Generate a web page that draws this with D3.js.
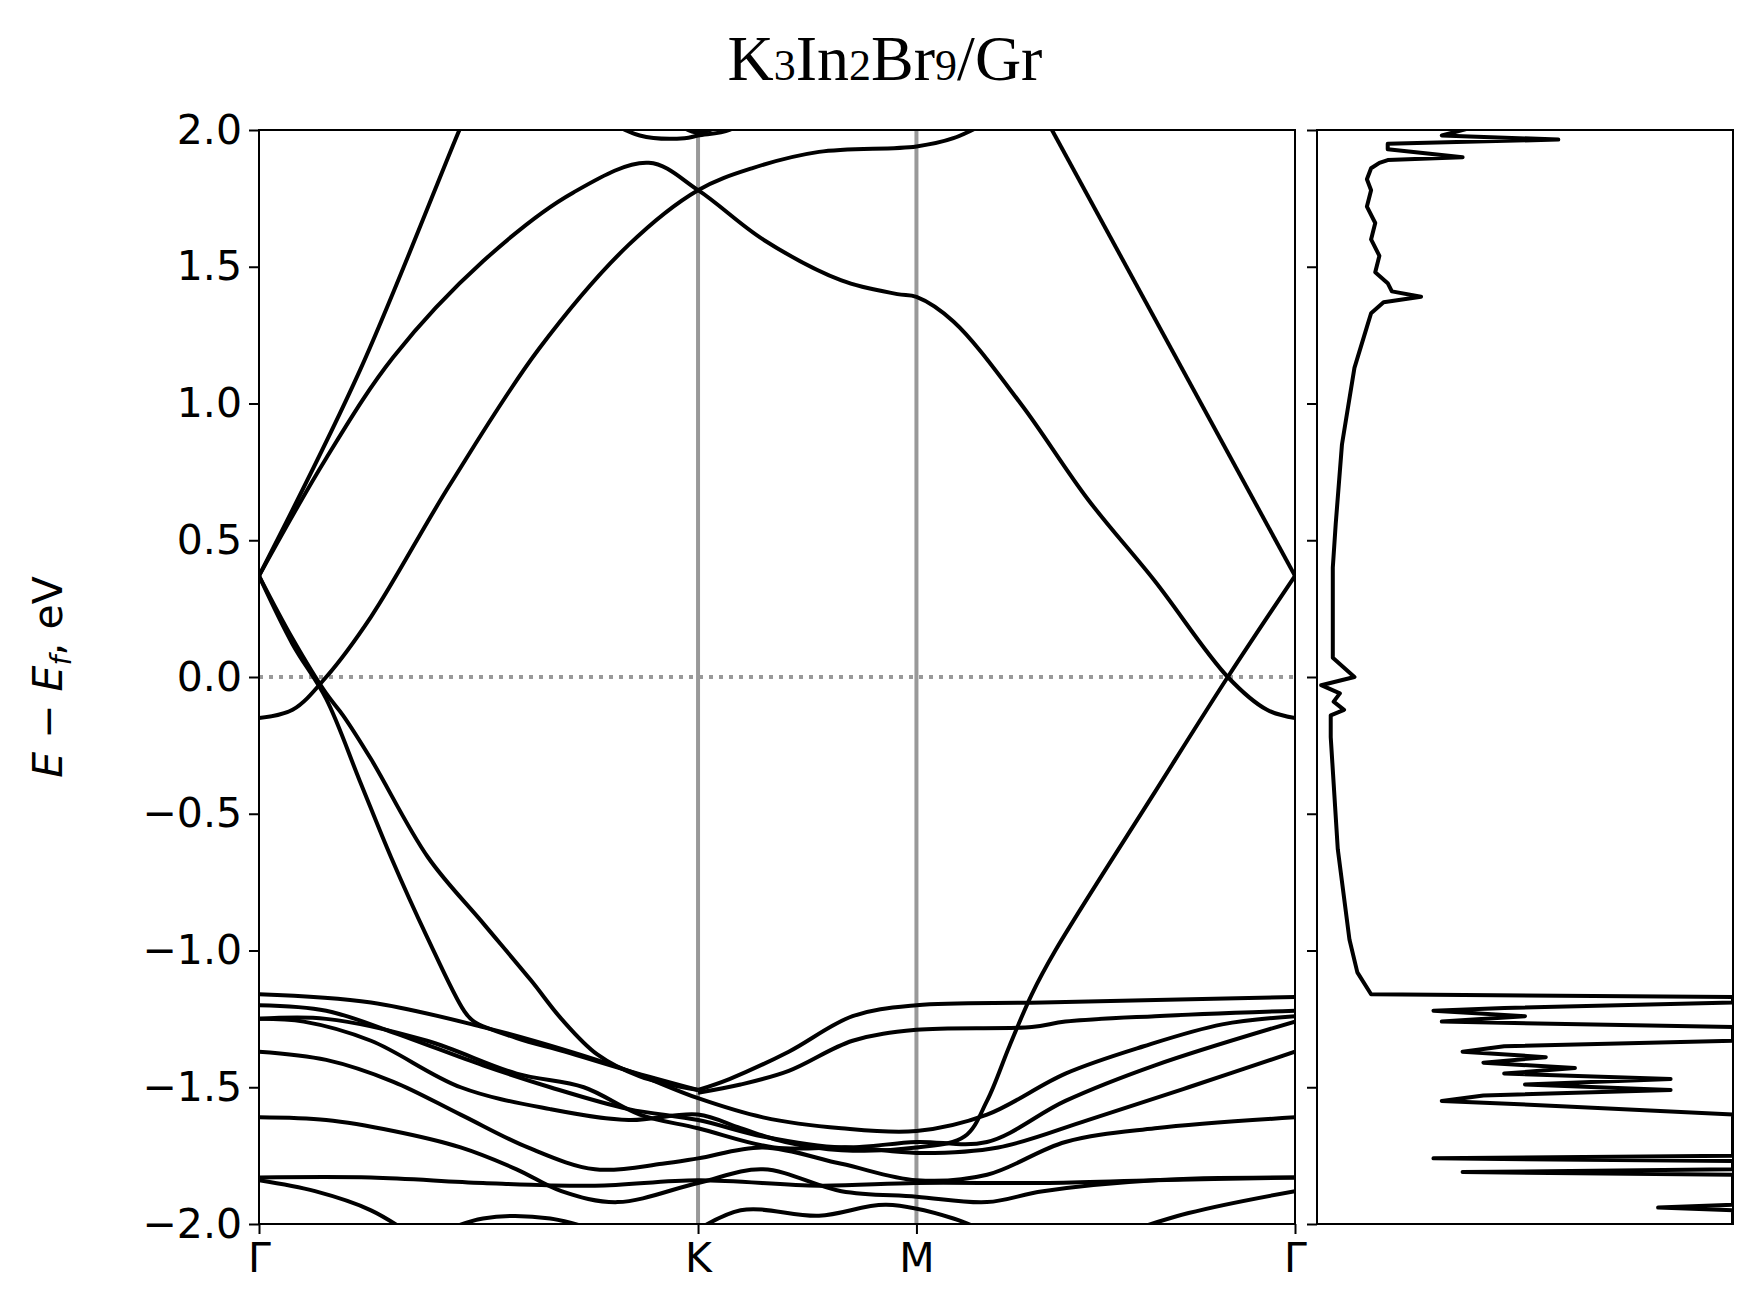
<!DOCTYPE html>
<html><head><meta charset="utf-8">
<script src="https://cdn.jsdelivr.net/npm/d3@7"></script>
<style>body{margin:0;background:#fff}</style></head>
<body><svg id="c" width="1748" height="1315"></svg>
<script>
// k-path coordinate units: Γ=0, K=392, M=587, Γ=925
const kLabels = ["Γ","K","M","Γ"];
const kTicks = [0,392,587,925];
const yTicks = [-2.0,-1.5,-1.0,-0.5,0.0,0.5,1.0,1.5,2.0];

const band1 = [[0,0.37],[90,1.12],[181,2.02],[190,2.1]];
const band2 = [[0,0.37],[60,0.8],[120,1.17],[200,1.52],[280,1.77],[348,1.88],[392,1.78],[450,1.6],[520,1.45],[570,1.40],[587,1.39],[620,1.3],[680,1.0],[740,0.65],[800,0.35],[865,0.0],[900,-0.12],[925,-0.15]];
const band3 = [[0,-0.15],[30,-0.12],[60,0.0],[100,0.22],[170,0.7],[250,1.2],[330,1.58],[392,1.78],[440,1.86],[500,1.92],[587,1.94],[620,1.97],[660,2.05]];
const band4 = [[700,2.06],[925,0.37]];
const band5 = [[0,0.37],[30,0.12],[60,-0.08],[90,-0.38],[118,-0.66],[150,-0.95],[183,-1.22],[192,-1.26],[230,-1.32],[273,-1.37],[330,-1.44],[392,-1.51]];
const band6 = [[0,0.37],[30,0.14],[60,-0.06],[75,-0.14],[100,-0.3],[151,-0.66],[200,-0.9],[243,-1.11],[270,-1.25],[302,-1.38],[340,-1.46],[392,-1.51]];
const band7 = [[392,-1.51],[420,-1.47],[473,-1.37],[530,-1.24],[587,-1.2],[700,-1.19],[925,-1.17]];
const band8 = [[392,-1.52],[430,-1.49],[473,-1.44],[530,-1.33],[587,-1.29],[690,-1.28],[720,-1.26],[800,-1.24],[925,-1.22]];
const band9 = [[925,0.37],[865,0.0],[800,-0.42],[711,-1.0],[690,-1.16],[670,-1.35],[650,-1.55],[630,-1.68],[587,-1.72],[520,-1.73],[470,-1.7],[430,-1.65],[392,-1.60],[330,-1.62],[260,-1.58],[180,-1.5],[100,-1.33],[40,-1.26],[0,-1.25]];
const band10 = [[0,-1.16],[100,-1.19],[200,-1.28],[270,-1.36],[330,-1.44],[392,-1.54],[450,-1.61],[520,-1.65],[587,-1.66],[650,-1.6],[720,-1.45],[790,-1.35],[860,-1.27],[925,-1.24]];
const band11 = [[0,-1.20],[60,-1.22],[120,-1.3],[200,-1.42],[260,-1.5],[330,-1.58],[392,-1.62],[450,-1.68],[520,-1.72],[587,-1.7],[650,-1.7],[720,-1.55],[800,-1.42],[925,-1.26]];
const band12 = [[0,-1.25],[60,-1.25],[150,-1.33],[230,-1.45],[290,-1.5],[340,-1.6],[392,-1.65],[460,-1.72],[530,-1.72],[587,-1.74],[660,-1.72],[740,-1.62],[830,-1.5],[925,-1.37]];
const band13 = [[0,-1.37],[60,-1.4],[120,-1.48],[180,-1.6],[240,-1.72],[300,-1.8],[360,-1.78],[392,-1.76],[450,-1.72],[520,-1.78],[587,-1.84],[650,-1.82],[720,-1.7],[800,-1.65],[925,-1.61]];
const band14 = [[0,-1.61],[60,-1.62],[120,-1.66],[180,-1.72],[230,-1.8],[270,-1.88],[320,-1.92],[392,-1.85],[450,-1.8],[520,-1.88],[587,-1.9],[650,-1.92],[700,-1.88],[800,-1.84],[925,-1.83]];
const band15 = [[0,-1.83],[100,-1.83],[200,-1.85],[300,-1.86],[392,-1.84],[500,-1.86],[587,-1.85],[700,-1.85],[800,-1.84],[925,-1.83]];
const band16 = [[0,-1.84],[50,-1.88],[100,-1.95],[140,-2.05]];
const band17 = [[150,-2.05],[200,-1.98],[260,-1.98],[320,-2.05]];
const band18 = [[380,-2.05],[430,-1.95],[500,-1.97],[560,-1.93],[620,-1.98],[660,-2.05]];
const band19 = [[760,-2.05],[830,-1.96],[925,-1.88]];
const band20 = [[300,2.06],[340,1.98],[380,1.97],[392,1.98],[420,2.0],[440,2.06]];
const band21 = [[360,2.06],[392,1.99],[430,2.06]];
const bands = [band1,band2,band3,band4,band5,band6,band7,band8,band9,band10,band11,band12,band13,band14,band15,band16,band17,band18,band19,band20,band21];

// DOS: [energy, normalized density]
const dosE = [2.02,1.98,1.965,1.95,1.93,1.90,1.89,1.88,1.86,1.82,1.78,1.72,1.66,1.6,1.54,1.48,1.44,1.41,1.39,1.37,1.33,1.28,1.13,0.85,0.56,0.4,0.07,0.0,-0.03,-0.06,-0.09,-0.12,-0.14,-0.22,-0.63,-0.96,-1.08,-1.16,-1.17,-1.19,-1.21,-1.22,-1.24,-1.26,-1.28,-1.33,-1.35,-1.37,-1.39,-1.41,-1.43,-1.45,-1.47,-1.49,-1.51,-1.53,-1.55,-1.57,-1.6,-1.75,-1.76,-1.77,-1.8,-1.81,-1.82,-1.93,-1.94,-1.95,-2.0];
const dosD = [0.4,0.3,0.58,0.17,0.17,0.35,0.17,0.15,0.13,0.12,0.13,0.12,0.14,0.13,0.15,0.14,0.17,0.18,0.25,0.16,0.13,0.12,0.09,0.06,0.045,0.038,0.038,0.09,0.01,0.055,0.04,0.065,0.033,0.033,0.05,0.078,0.097,0.13,1.0,1.0,0.45,0.28,0.5,0.3,1.0,1.0,0.45,0.35,0.55,0.4,0.62,0.45,0.85,0.5,0.85,0.4,0.3,0.6,1.0,1.0,0.28,1.0,1.0,0.35,1.0,1.0,0.82,1.0,1.0];

const svg = d3.select("#c");
const L = {x0:259, x1:1295, y0:130, y1:1224, dx0:1317, dx1:1733};
const x = d3.scaleLinear().domain([0,925]).range([L.x0,L.x1]);
const y = d3.scaleLinear().domain([-2,2]).range([L.y1,L.y0]);
const xd = d3.scaleLinear().domain([0,1]).range([L.dx0,L.dx1]);

const defs = svg.append("defs");
defs.append("clipPath").attr("id","cp").append("rect").attr("x",L.x0).attr("y",L.y0).attr("width",L.x1-L.x0).attr("height",L.y1-L.y0);
defs.append("clipPath").attr("id","cp2").append("rect").attr("x",L.dx0).attr("y",L.y0).attr("width",L.dx1-L.dx0).attr("height",L.y1-L.y0);

svg.selectAll(".vl").data([392,587]).enter().append("line")
  .attr("x1",d=>x(d)).attr("x2",d=>x(d)).attr("y1",L.y0).attr("y2",L.y1)
  .attr("stroke","#999").attr("stroke-width",4);
svg.append("line").attr("x1",L.x0).attr("x2",L.x1).attr("y1",y(0)).attr("y2",y(0))
  .attr("stroke","#999").attr("stroke-width",4).attr("stroke-dasharray","4,6");

const line = d3.line().x(d=>x(d[0])).y(d=>y(d[1])).curve(d3.curveCatmullRom.alpha(0.5));
const g = svg.append("g").attr("clip-path","url(#cp)");
bands.forEach(b=>{
  const s = b[0][0] > b[b.length-1][0] ? b.slice().reverse() : b;
  g.append("path").attr("d",line(s)).attr("fill","none").attr("stroke","#000").attr("stroke-width",4);
});

const dl = d3.line().x((d,i)=>xd(dosD[i])).y((d,i)=>y(dosE[i]));
svg.append("g").attr("clip-path","url(#cp2)").append("path").attr("d",dl(dosE))
  .attr("fill","none").attr("stroke","#000").attr("stroke-width",4).attr("stroke-linejoin","round");

svg.append("rect").attr("x",L.x0).attr("y",L.y0).attr("width",L.x1-L.x0).attr("height",L.y1-L.y0).attr("fill","none").attr("stroke","#000").attr("stroke-width",2);
svg.append("rect").attr("x",L.dx0).attr("y",L.y0).attr("width",L.dx1-L.dx0).attr("height",L.y1-L.y0).attr("fill","none").attr("stroke","#000").attr("stroke-width",2);

const font = "DejaVu Sans";
const ya = svg.append("g").attr("transform",`translate(${L.x0},0)`)
  .call(d3.axisLeft(y).tickValues(yTicks).tickSize(10).tickSizeOuter(0).tickFormat(d=>d3.format(".1f")(d).replace("-","\u2212")));
ya.select(".domain").remove();
ya.selectAll("line").attr("stroke-width",2);
ya.selectAll("text").attr("font-family",font).attr("font-size",41).attr("dx",-4);

const yb = svg.append("g").attr("transform",`translate(${L.dx0},0)`)
  .call(d3.axisLeft(y).tickValues(yTicks).tickSize(10).tickFormat(""));
yb.select(".domain").remove();
yb.selectAll("line").attr("stroke-width",2);

const xa = svg.append("g").attr("transform",`translate(0,${L.y1})`)
  .call(d3.axisBottom(x).tickValues(kTicks).tickSize(10).tickFormat((d,i)=>kLabels[i]));
xa.select(".domain").remove();
xa.selectAll("line").attr("stroke-width",2);
xa.selectAll("text").attr("font-family",font).attr("font-size",41).attr("dy","0.85em");

const yl = svg.append("text").attr("transform",`translate(62,${y(0)}) rotate(-90)`)
  .attr("text-anchor","middle").attr("font-family",font).attr("font-size",41);
yl.append("tspan").attr("font-style","italic").text("E");
yl.append("tspan").text(" \u2212 ");
yl.append("tspan").attr("font-style","italic").text("E");
yl.append("tspan").attr("font-style","italic").attr("font-size",28).attr("dy",9).text("f");
yl.append("tspan").attr("dy",-9).text(", eV");

const t = svg.append("text").attr("x",885).attr("y",80).attr("text-anchor","middle")
  .attr("font-family","Liberation Serif").attr("font-size",64);
[["K",0],["3",1],["In",0],["2",1],["Br",0],["9",1],["/Gr",0]].forEach(([s,sub])=>{
  t.append("tspan").attr("font-size",sub?44:64).text(s);
});
</script></body></html>
